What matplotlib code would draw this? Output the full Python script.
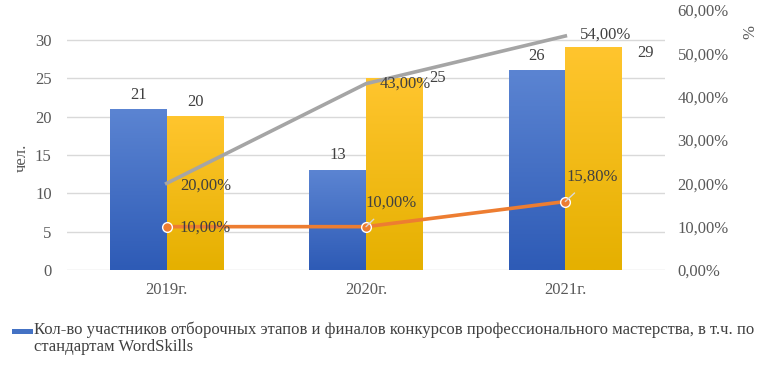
import numpy as np
import matplotlib
matplotlib.use('Agg')
import matplotlib.pyplot as plt
from matplotlib.colors import LinearSegmentedColormap
from matplotlib.patches import Rectangle

# data
years = ['2019г.', '2020г.', '2021г.']
participants = [21, 13, 26]
second_count = [20, 25, 29]
gray_pct = [0.20, 0.43, 0.54]
orange_pct = [0.10, 0.10, 0.158]
legend_label = ('Кол-во участников отборочных этапов и финалов конкурсов профессионального мастерства, в т.ч. по\n'
                'стандартам WordSkills')

plt.rcParams['font.family'] = ['Liberation Serif', 'DejaVu Serif']
plt.rcParams['font.size'] = 12

txt_col = '#595959'
lab_col = '#404040'

fig = plt.figure(figsize=(7.59, 3.76), dpi=100)
W, H = 759, 376
ax = fig.add_axes([67 / W, (H - 270) / H, (665 - 67) / W, 260 / H])
ax2 = ax.twinx()

x = np.arange(len(years))
bw = 0.285
b1 = ax.bar(x - bw / 2, participants, bw, color='#4472C4', zorder=2)
b2 = ax.bar(x + bw / 2, second_count, bw, color='#FFC000', zorder=2)

ax.set_yticks([0, 5, 10, 15, 20, 25, 30])
ax.grid(axis='y', color='#D9D9D9', linewidth=1, zorder=0)
ax.set_axisbelow(True)


def gradient_bars(bars, top, bottom):
    cmap = LinearSegmentedColormap.from_list('g', [bottom, top])
    grad = np.linspace(0, 1, 100).reshape(-1, 1)
    for b in bars:
        x0, y0 = b.get_x(), b.get_y()
        ax.imshow(grad, extent=[x0, x0 + b.get_width(), y0, y0 + b.get_height()],
                  origin='lower', aspect='auto', cmap=cmap, zorder=2.1)
        b.set_alpha(0)


gradient_bars(b1, '#5B84D2', '#2E5BB6')
gradient_bars(b2, '#FFC52E', '#E5B000')
ax.set_xlim(-0.5, 2.5)
ax.set_ylim(0, 30 * 260 / 230)

ax.set_xticks(x)
ax.set_xticklabels(years)
for s in ax.spines.values():
    s.set_visible(False)
for s in ax2.spines.values():
    s.set_visible(False)
ax.tick_params(axis='both', length=0, colors=txt_col, labelsize=12)
ax.tick_params(axis='y', pad=11)
ax.tick_params(axis='x', pad=9)

ax2.set_ylim(0, 0.6)
ax2.set_yticks(np.arange(0, 0.61, 0.1))
ax2.set_yticklabels([f'{v:.2f}%'.replace('.', ',') for v in np.arange(0, 61, 10)])
ax2.tick_params(axis='y', length=0, colors=txt_col, labelsize=12, pad=9)

ax2.plot(x, gray_pct, color='#A5A5A5', linewidth=2.6, zorder=3)
ax2.plot(x, orange_pct, color='#ED7D31', linewidth=2.6, zorder=3,
         marker='o', markersize=7, markerfacecolor='#ED7D31',
         markeredgecolor='white', markeredgewidth=1)
ax2.set_zorder(ax.get_zorder() + 1)
ax2.patch.set_visible(False)


def pct(v):
    return f'{v * 100:.2f}%'.replace('.', ',')


# bar labels (offsets in pixels from bar top centre)
bar_offsets1 = [(0, 14), (0, 15), (0, 15)]
bar_offsets2 = [(0, 15), (43, 0), (52, -5)]
for b, v, off in zip(b1, participants, bar_offsets1):
    ax.annotate(str(v), (b.get_x() + b.get_width() / 2, v), xytext=off,
                textcoords='offset pixels', ha='center', va='center', color=lab_col, fontsize=12)
for b, v, off in zip(b2, second_count, bar_offsets2):
    ax.annotate(str(v), (b.get_x() + b.get_width() / 2, v), xytext=off,
                textcoords='offset pixels', ha='center', va='center', color=lab_col, fontsize=12)

gray_offsets = [(39, -2), (39, 0), (40, 1)]
for xi, v, off in zip(x, gray_pct, gray_offsets):
    ax2.annotate(pct(v), (xi, v), xytext=off, textcoords='offset pixels',
                 ha='center', va='center', color=lab_col, fontsize=12, zorder=5)

orange_offsets = [(38, -1), (25, 24), (27, 25)]
for i, (xi, v, off) in enumerate(zip(x, orange_pct, orange_offsets)):
    arrow = None
    if off[1] > 10:
        arrow = dict(arrowstyle='-', color='#D9D9D9', lw=1, shrinkA=6, shrinkB=0)
    ax2.annotate(pct(v), (xi, v), xytext=off, textcoords='offset pixels',
                 ha='center', va='center', color=lab_col, fontsize=12, zorder=5,
                 arrowprops=arrow)

# axis titles
fig.text(22 / W, 1 - 158 / H, 'чел.', rotation=90, ha='center', va='center', color=txt_col, fontsize=12)
fig.text(745 / W, 1 - 32 / H, '%', rotation=270, ha='center', va='center', color=txt_col, fontsize=12)

# legend (single entry)
fig.patches.append(Rectangle((12 / W, 1 - 334 / H), 21 / W, 5 / H, transform=fig.transFigure,
                             facecolor='#4472C4', edgecolor='none', figure=fig))
fig.text(34 / W, 1 - 321 / H, legend_label, ha='left', va='top', color=lab_col, fontsize=12,
         linespacing=1.15)

fig.savefig('out.png', dpi=100)
